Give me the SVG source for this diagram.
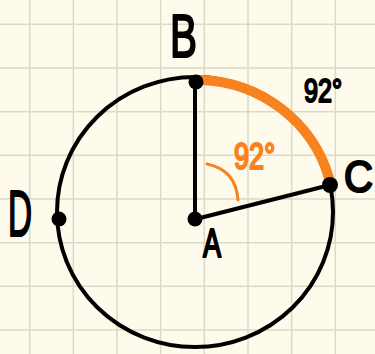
<svg xmlns="http://www.w3.org/2000/svg" width="375" height="354" viewBox="0 0 375 354">
<style>
.grid{stroke:#dcd9c8;stroke-width:1.5}
.blk{fill:none;stroke:#000;stroke-width:4;stroke-linecap:round}
.dot{fill:#000}
.lbl{font-family:"Liberation Sans","DejaVu Sans",sans-serif;fill:#000;stroke:#000;stroke-width:2.2;stroke-linejoin:round}
.org{fill:#f7821e;stroke:#f7821e}
</style>
<rect width="375" height="354" fill="#fefbec"/>
<g id="grid">
<path class="grid" d="M29.7,0V354M73.3,0V354M117,0V354M160.7,0V354M204.3,0V354M248,0V354M291.7,0V354M335.3,0V354M0,24.3H375M0,68H375M0,111.7H375M0,155.3H375M0,199H375M0,242.7H375M0,286.3H375M0,330H375"/>
</g>
<g id="circle">
<ellipse class="blk" cx="195" cy="212" rx="138" ry="135"/>
<path d="M201,80 A138,135 0 0 1 329,178" fill="none" stroke="#f7821e" stroke-width="10" stroke-linecap="round"/>
</g>
<g id="connectors">
<line class="blk" x1="195" y1="81" x2="195" y2="219"/>
<line class="blk" x1="196" y1="219" x2="330" y2="185"/>
<path d="M207,164 Q236,170 238,200" fill="none" stroke="#f7821e" stroke-width="3" stroke-linecap="round"/>
</g>
<g id="node-A">
<circle class="dot" cx="195" cy="219" r="7.5"/>
<text class="lbl" x="203" y="257" font-size="40" textLength="18" lengthAdjust="spacingAndGlyphs">A</text>
</g>
<g id="node-B">
<circle class="dot" cx="196" cy="82" r="7.5"/>
<text class="lbl" x="170" y="57" font-size="62" textLength="27" lengthAdjust="spacingAndGlyphs">B</text>
</g>
<g id="node-C">
<circle class="dot" cx="330" cy="185" r="8"/>
<text class="lbl" x="344" y="192" font-size="44" textLength="29" lengthAdjust="spacingAndGlyphs">C</text>
</g>
<g id="node-D">
<circle class="dot" cx="59" cy="219" r="7.5"/>
<text class="lbl" x="8" y="236" font-size="64" textLength="24" lengthAdjust="spacingAndGlyphs">D</text>
</g>
<g id="labels">
<text class="lbl" x="304" y="102" font-size="34" textLength="38" lengthAdjust="spacingAndGlyphs">92°</text>
<text class="lbl org" x="234" y="169" font-size="36" textLength="41" lengthAdjust="spacingAndGlyphs">92°</text>
</g>
</svg>
